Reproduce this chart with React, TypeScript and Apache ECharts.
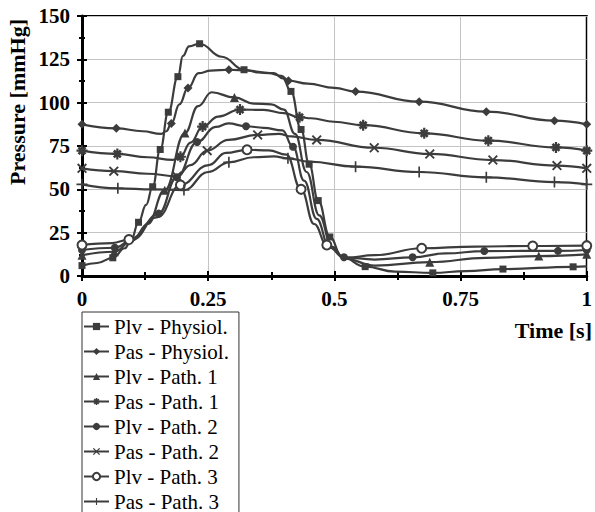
import React, { useEffect, useRef } from "react";
import * as echarts from "echarts";

// [time (s), pressure (mmHg), marker shown (1) or not (0)]
const plvPhysiol: number[][] = [
  [0, 6, 1], [0.03, 7.5, 0], [0.061, 10.5, 1], [0.085, 16, 0], [0.098, 21.5, 0],
  [0.112, 31, 1], [0.127, 41, 0], [0.14, 51.5, 1], [0.155, 73, 1], [0.171, 94.5, 1],
  [0.19, 115, 1], [0.2, 127, 0], [0.212, 132.5, 0], [0.233, 134, 1], [0.277, 126.5, 0],
  [0.321, 119, 1], [0.35, 117.5, 0], [0.38, 117, 0], [0.398, 114, 0], [0.414, 106.5, 1],
  [0.434, 84.5, 1], [0.45, 64.5, 1], [0.468, 43.5, 1], [0.491, 22.5, 1], [0.515, 11, 0],
  [0.561, 5.4, 1], [0.62, 2.5, 0], [0.695, 1.8, 1], [0.76, 2.8, 0], [0.834, 4, 1],
  [0.973, 5.3, 1], [1, 5.5, 0],
];
const pasPhysiol: number[][] = [
  [0, 87.5, 1], [0.068, 85.2, 1], [0.12, 83.5, 0], [0.157, 82, 0], [0.167, 83.5, 0],
  [0.177, 88, 1], [0.193, 99, 0], [0.21, 108.5, 1], [0.231, 117, 0], [0.255, 118.5, 0],
  [0.291, 119, 1], [0.33, 118.5, 0], [0.37, 117, 0], [0.395, 115.5, 0], [0.409, 112.7, 1],
  [0.447, 111, 0], [0.5, 108.5, 0], [0.542, 106.4, 1], [0.668, 100.6, 1], [0.801, 94.8, 1],
  [0.936, 89.6, 1], [1, 87.5, 1],
];
const plvPath1: number[][] = [
  [0, 12, 1], [0.064, 14, 1], [0.1, 20.5, 0], [0.13, 30, 0], [0.164, 49.5, 1],
  [0.204, 82.5, 1], [0.23, 98, 0], [0.257, 106, 0], [0.302, 103, 1], [0.34, 99.5, 0],
  [0.375, 99, 0], [0.4, 96, 0], [0.422, 82, 0], [0.445, 60, 0], [0.47, 35, 0],
  [0.495, 17, 0], [0.52, 10, 0], [0.58, 6, 0], [0.689, 8, 1], [0.8, 10.5, 0],
  [0.905, 11.5, 1], [1, 12.5, 1],
];
const pasPath1: number[][] = [
  [0, 72.3, 1], [0.07, 70.4, 1], [0.13, 68.5, 0], [0.18, 67, 0], [0.195, 68.8, 1],
  [0.215, 77, 0], [0.239, 86.2, 1], [0.27, 92, 0], [0.313, 96, 1], [0.36, 95.8, 0],
  [0.4, 94, 0], [0.431, 91.6, 1], [0.454, 91, 0], [0.499, 89, 0], [0.557, 87, 1],
  [0.678, 82.3, 1], [0.805, 78.1, 1], [0.939, 74.2, 1], [1, 72.3, 1],
];
const plvPath2: number[][] = [
  [0, 15, 1], [0.065, 16.3, 1], [0.1, 21, 0], [0.152, 36, 1], [0.188, 57, 1],
  [0.228, 77.3, 1], [0.265, 86, 0], [0.29, 88, 0], [0.325, 86.4, 1], [0.36, 85.5, 0],
  [0.397, 84, 0], [0.418, 74.6, 1], [0.44, 55, 0], [0.465, 33, 0], [0.49, 16.5, 0],
  [0.519, 10.8, 1], [0.58, 9.5, 0], [0.655, 10.8, 1], [0.72, 13, 0], [0.797, 14.4, 1],
  [0.943, 14.5, 1], [1, 15, 1],
];
const pasPath2: number[][] = [
  [0, 62.1, 1], [0.063, 60.5, 1], [0.13, 59, 0], [0.188, 57.5, 1], [0.215, 64, 0],
  [0.248, 72.3, 1], [0.29, 78.5, 0], [0.348, 81.4, 1], [0.39, 82, 0], [0.415, 80.5, 0],
  [0.465, 78.5, 1], [0.579, 74, 1], [0.689, 70.4, 1], [0.814, 66.9, 1], [0.941, 63.7, 1],
  [1, 62.1, 1],
];
const plvPath3: number[][] = [
  [0, 17.9, 1], [0.06, 19, 0], [0.093, 21, 1], [0.15, 34, 0], [0.195, 52.5, 1],
  [0.251, 64, 0], [0.285, 71, 0], [0.327, 72.8, 1], [0.37, 72.5, 0], [0.405, 70, 0],
  [0.434, 50, 1], [0.46, 30, 0], [0.485, 17.9, 1], [0.52, 10.5, 0], [0.58, 12, 0],
  [0.673, 16, 1], [0.78, 17, 0], [0.893, 17.3, 1], [1, 17.5, 1],
];
const pasPath3: number[][] = [
  [0, 52.9, 1], [0.071, 50.6, 1], [0.14, 50, 0], [0.202, 49.6, 1], [0.25, 60, 0],
  [0.291, 65.6, 1], [0.34, 68.5, 0], [0.38, 69, 0], [0.408, 67.9, 1], [0.45, 66, 0],
  [0.542, 63.1, 1], [0.668, 60, 1], [0.801, 56.9, 1], [0.936, 54.2, 1], [1, 52.9, 1],
];

const seriesNames = [
  "Plv - Physiol.", "Pas - Physiol.", "Plv - Path. 1", "Pas - Path. 1",
  "Plv - Path. 2", "Pas - Path. 2", "Plv - Path. 3", "Pas - Path. 3",
];
const seriesData = [plvPhysiol, pasPhysiol, plvPath1, pasPath1, plvPath2, pasPath2, plvPath3, pasPath3];

const xTicks = [0, 0.25, 0.5, 0.75, 1];

const PLUS = "path://M-0.75,-5H0.75V5H-0.75Z M-5,-0.75H5V0.75H-5Z";
const CROSS = "path://M-4.2,-3.1L-3.1,-4.2L4.2,3.1L3.1,4.2Z M3.1,-4.2L4.2,-3.1L-3.1,4.2L-4.2,3.1Z";
const STAR =
  "path://M-1,-5H1V5H-1Z M-5,-1H5V1H-5Z M-4,-2.3L-2.3,-4L4,2.3L2.3,4Z M2.3,-4L4,-2.3L-2.3,4L-4,2.3Z";

const symbols: [string, number][] = [
  ["rect", 7],
  ["diamond", 9],
  ["triangle", 9],
  [STAR, 11],
  ["circle", 8],
  [CROSS, 10],
  ["emptyCircle", 9],
  [PLUS, 11],
];

const FONT = "Liberation Serif, Times New Roman, serif";
const INK = "#3c3c3c";

export default function App() {
  const ref = useRef<HTMLDivElement>(null);
  useEffect(() => {
    if (!ref.current) return;
    const chart = echarts.init(ref.current, null, { renderer: "svg" });
    const axisLabelStyle = { fontFamily: FONT, fontWeight: "bold", fontSize: 21, color: "#000" };
    const series = seriesData.map((d, i) => ({
      name: seriesNames[i],
      type: "line",
      xAxisIndex: 0,
      yAxisIndex: 0,
      smooth: 0.45,
      smoothMonotone: "x",
      symbol: symbols[i][0],
      symbolSize: symbols[i][1],
      showSymbol: true,
      lineStyle: { color: INK, width: 2.2 },
      itemStyle: { color: INK, borderColor: INK, borderWidth: i === 6 ? 1.3 : 0 },
      emphasis: { disabled: true },
      data: d.map((p) => (p[2] ? { value: [p[0], p[1]] } : { value: [p[0], p[1]], symbol: "none" })),
    }));
    chart.setOption({
      animation: false,
      backgroundColor: "#fff",
      textStyle: { fontFamily: FONT },
      grid: { left: 82, top: 16, width: 510, height: 260, show: true, borderColor: "#000", borderWidth: 2 },
      xAxis: [
        {
          type: "value", min: 0, max: 1, interval: 0.25,
          axisLine: { lineStyle: { color: "#000", width: 3 } },
          axisTick: { show: true, length: 5, lineStyle: { color: "#000", width: 2 } },
          minorTick: { show: true, splitNumber: 2, length: 4, lineStyle: { color: "#000", width: 2 } },
          splitLine: { show: true, lineStyle: { color: "#c4c4c4", width: 1 } },
          axisLabel: { ...axisLabelStyle, margin: 12, formatter: (v: number) => (xTicks.includes(v) ? String(v) : "") },
        },
        {
          type: "value", min: 0, max: 1, interval: 0.25, position: "bottom", offset: 0,
          axisLine: { show: false },
          axisTick: { show: true, inside: true, length: 5, lineStyle: { color: "#000", width: 2 } },
          minorTick: { show: true, splitNumber: 2, length: 4, lineStyle: { color: "#000", width: 2 } },
          splitLine: { show: false },
          axisLabel: { show: false },
        },
      ],
      yAxis: [
        {
          type: "value", min: 0, max: 150, interval: 25,
          axisLine: { show: true, lineStyle: { color: "#000", width: 3 } },
          axisTick: { show: true, length: 5, lineStyle: { color: "#000", width: 2 } },
          minorTick: { show: true, splitNumber: 2, length: 3, lineStyle: { color: "#000", width: 2 } },
          splitLine: { show: true, lineStyle: { color: "#c4c4c4", width: 1 } },
          axisLabel: { ...axisLabelStyle, margin: 12 },
        },
        {
          type: "value", min: 0, max: 150, interval: 25, position: "left", offset: 0,
          axisLine: { show: false },
          axisTick: { show: true, inside: true, length: 5, lineStyle: { color: "#000", width: 2 } },
          minorTick: { show: true, splitNumber: 2, length: 3, lineStyle: { color: "#000", width: 2 } },
          splitLine: { show: false },
          axisLabel: { show: false },
        },
      ],
      legend: {
        orient: "vertical",
        left: 82,
        top: 312,
        height: 230,
        itemGap: 0,
        itemWidth: 25,
        itemHeight: 9,
        padding: [2, 10, 2, 1],
        borderColor: "#333",
        borderWidth: 1,
        backgroundColor: "#fff",
        selectedMode: false,
        textStyle: { fontFamily: FONT, fontSize: 21, fontWeight: "normal", color: "#000", lineHeight: 25 },
        data: seriesNames,
      },
      graphic: [
        {
          type: "text", x: 17, y: 102, rotation: Math.PI / 2,
          style: {
            text: "Pressure [mmHg]", fontFamily: FONT, fontWeight: "bold", fontSize: 22, fill: "#000",
            align: "center", verticalAlign: "middle",
          },
        },
        {
          type: "text", x: 592, y: 330,
          style: {
            text: "Time [s]", fontFamily: FONT, fontWeight: "bold", fontSize: 22, fill: "#000",
            align: "right", verticalAlign: "middle",
          },
        },
      ],
      series,
    });
    return () => chart.dispose();
  }, []);
  return <div ref={ref} style={{ position: "fixed", left: 0, top: 0, width: 595, height: 512 }} />;
}
